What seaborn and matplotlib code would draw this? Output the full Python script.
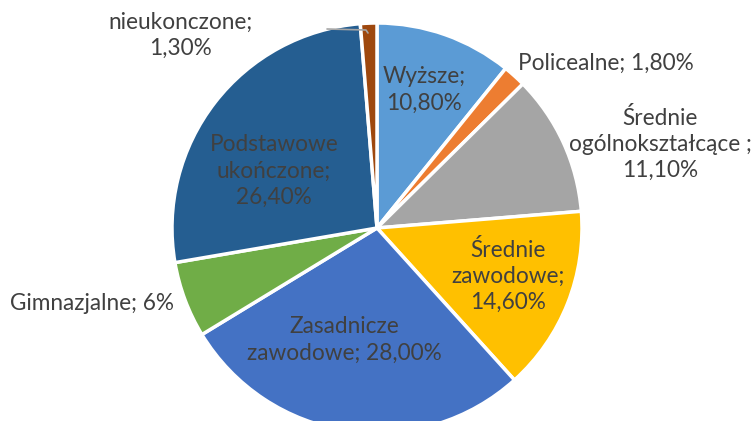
import matplotlib
matplotlib.use("Agg")
import matplotlib.pyplot as plt
import seaborn as sns

# ---------------------------------------------------------
# DATA
# ---------------------------------------------------------

categories = [
    "Wyższe",
    "Policealne",
    "Średnie ogólnokształcące",
    "Średnie zawodowe",
    "Zasadnicze zawodowe",
    "Gimnazjalne",
    "Podstawowe ukończone",
    "Podstawowe nieukonczone",
]

shares = [10.8, 1.8, 11.1, 14.6, 28.0, 6.0, 26.4, 1.3]

# the first line of the last label ("Podstawowe") lies above the picture
label_texts = [
    "Wyższe;\n10,80%",
    "Policealne; 1,80%",
    "Średnie\nogólnokształcące ;\n11,10%",
    "Średnie\nzawodowe;\n14,60%",
    "Zasadnicze\nzawodowe; 28,00%",
    "Gimnazjalne; 6%",
    "Podstawowe\nukończone;\n26,40%",
    "nieukonczone;\n1,30%",
]

colors = [
    "#5B9BD5",
    "#ED7D31",
    "#A5A5A5",
    "#FFC000",
    "#4472C4",
    "#70AD47",
    "#255E91",
    "#9E480E",
]

# ---------------------------------------------------------
# STYLE SETTINGS
# ---------------------------------------------------------

sns.set_theme(style="white")
plt.rcParams["font.family"] = ["Lato", "DejaVu Sans"]

W, H = 755, 421

fig = plt.figure(figsize=(W / 100, H / 100), dpi=100)
ax = fig.add_axes([0, 0, 1, 1])

# ---------------------------------------------------------
# PIE
# ---------------------------------------------------------

ax.pie(
    shares,
    colors=colors,
    startangle=90,
    counterclock=False,
    center=(377, H - 228),
    radius=205,
    wedgeprops={"edgecolor": "white", "linewidth": 2.5},
    frame=True,
)
ax.set_xlim(0, W)
ax.set_ylim(0, H)
ax.set_aspect("equal")
ax.axis("off")

# label positions in pixel coords (x, y from top)
label_pos = [
    (424, 90),
    (606, 63),
    (660, 144),
    (508, 276),
    (344, 340),
    (92, 304),
    (274, 171),
    (180, 35),
]

for txt, (x, y) in zip(label_texts, label_pos):
    ax.text(
        x, H - y, txt,
        ha="center", va="center",
        fontsize=16.3, color="#404040",
        linespacing=1.3,
    )

# leader line of the small brown slice
ax.plot([327, 366, 368], [H - 29, H - 30, H - 33], color="#A6A6A6", lw=1.2)

fig.savefig("out.png", dpi=100)
